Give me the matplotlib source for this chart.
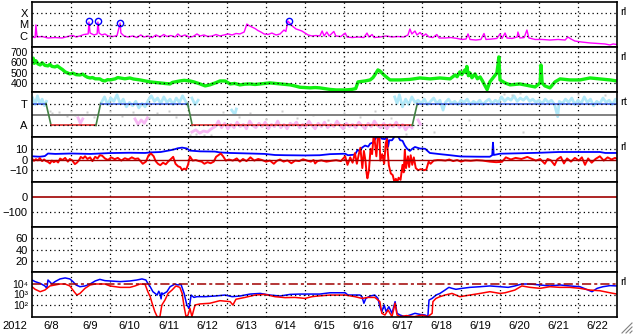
import numpy as np
import matplotlib
matplotlib.use('Agg')
import matplotlib.pyplot as plt
from matplotlib.lines import Line2D

plt.rcParams['font.family'] = ['Liberation Sans', 'DejaVu Sans']
plt.rcParams['font.size'] = 8

# day 0 = 6/8 00:00
days = ['6/8', '6/9', '6/10', '6/11', '6/12', '6/13', '6/14', '6/15',
        '6/16', '6/17', '6/18', '6/19', '6/20', '6/21', '6/22']
year = '2012'

# X-ray class level (1=C, 2=M, 3=X)
xray = [(0.00,0.89),(0.08,0.84),(0.10,1.96),(0.13,0.89),(0.26,0.93),(0.41,0.80),(0.59,0.84),(0.77,0.80),
        (0.87,0.89),(0.97,0.98),(1.05,1.02),(1.13,0.89),(1.23,0.98),(1.33,1.11),(1.44,1.16),(1.46,2.22),
        (1.49,1.24),(1.59,1.07),(1.67,1.16),(1.69,2.22),(1.72,1.24),(1.79,1.07),(1.87,1.16),(1.95,0.98),
        (2.08,0.93),(2.18,1.02),(2.26,2.13),(2.28,1.24),(2.36,0.98),(2.46,0.89),(2.59,0.98),(2.69,0.84),
        (2.79,1.07),(2.87,0.89),(2.97,0.98),(3.08,0.84),(3.18,1.07),(3.28,0.89),(3.38,1.11),(3.46,0.93),
        (3.56,1.02),(3.67,0.89),(3.74,1.16),(3.82,0.93),(3.92,1.07),(4.03,0.89),(4.13,0.93),(4.23,1.16),
        (4.31,0.98),(4.41,1.07),(4.51,0.93),(4.62,0.98),(4.72,1.11),(4.82,0.98),(4.92,1.07),(5.03,1.16),
        (5.13,1.07),(5.23,1.20),(5.33,1.16),(5.44,1.33),(5.51,2.04),(5.56,1.91),(5.64,1.78),(5.72,1.64),
        (5.79,1.47),(5.87,1.33),(5.95,1.16),(6.05,1.11),(6.15,1.24),(6.26,1.07),(6.36,1.16),(6.46,1.51),
        (6.51,1.38),(6.56,2.31),(6.62,2.09),(6.69,1.82),(6.77,1.60),(6.85,1.51),(6.92,1.42),(7.00,1.24),
        (7.08,1.07),(7.18,0.98),(7.28,1.02),(7.38,0.98),(7.44,1.42),(7.49,0.98),(7.56,1.33),(7.62,0.98),
        (7.74,1.38),(7.79,0.98),(7.92,0.93),(8.03,1.24),(8.08,0.89),(8.21,0.84),(8.36,0.89),(8.51,0.84),
        (8.59,1.24),(8.64,0.89),(8.72,1.11),(8.77,0.84),(8.92,0.89),(9.08,0.98),(9.23,0.89),(9.38,0.93),
        (9.54,0.89),(9.64,1.07),(9.69,1.60),(9.74,1.16),(9.82,1.42),(9.87,1.07),(9.95,1.29),(10.03,0.98),
        (10.10,1.16),(10.18,0.89),(10.28,0.84),(10.38,1.11),(10.44,0.80),(10.59,0.80),(10.74,0.84),(10.90,0.76),
        (11.03,0.67),(11.13,0.71),(11.18,1.16),(11.23,0.67),(11.38,0.62),(11.51,0.67),(11.59,1.20),(11.64,0.67),
        (11.79,0.71),(11.92,0.76),(12.00,1.16),(12.05,0.76),(12.13,1.24),(12.18,0.80),(12.31,0.76),(12.44,0.89),
        (12.46,1.33),(12.51,0.80),(12.62,0.84),(12.69,1.51),(12.74,0.80),(12.90,0.67),(13.08,0.67),(13.28,0.62),
        (13.49,0.67),(13.67,0.62),(13.74,0.89),(13.82,0.71),(13.92,0.53),(14.10,0.44),(14.31,0.36),(14.51,0.31),
        (14.69,0.27),(14.82,0.18),(14.90,0.27),(15.00,0.22)]
flares = [(1.47,2.28),(1.70,2.28),(2.26,2.16),(6.59,2.28)]

# solar wind speed km/s
speed = [(0.00,600),(0.03,640),(0.06,590),(0.10,615),(0.15,585),(0.21,574),(0.26,595),(0.33,570),(0.41,565),
         (0.46,580),(0.51,560),(0.59,555),(0.65,565),(0.72,545),(0.78,530),(0.85,507),(0.92,495),(0.97,487),
         (1.05,495),(1.13,480),(1.23,477),(1.30,485),(1.36,468),(1.42,455),(1.49,448),(1.55,452),(1.62,440),
         (1.74,439),(1.80,425),(1.87,419),(1.94,432),(2.00,429),(2.13,439),(2.20,452),(2.26,448),(2.38,440),
         (2.51,448),(2.60,438),(2.77,429),(2.90,420),(3.03,410),(3.15,405),(3.28,400),(3.40,395),(3.54,390),
         (3.60,405),(3.79,419),(3.90,425),(4.05,419),(4.15,410),(4.31,390),(4.44,371),(4.56,381),(4.70,400),
         (4.82,419),(4.95,419),(5.08,390),(5.20,395),(5.33,381),(5.46,388),(5.59,390),(5.72,385),(5.85,390),
         (5.97,395),(6.10,400),(6.23,395),(6.36,390),(6.50,385),(6.62,381),(6.75,370),(6.87,358),(7.00,355),
         (7.13,352),(7.26,355),(7.38,352),(7.51,345),(7.64,337),(7.80,332),(8.03,332),(8.20,337),(8.30,345),
         (8.36,410),(8.45,415),(8.54,419),(8.67,429),(8.74,450),(8.79,477),(8.87,526),(8.92,516),(9.05,468),
         (9.18,429),(9.44,429),(9.69,434),(9.95,448),(10.21,439),(10.46,448),(10.72,439),(10.85,477),(10.90,460),
         (10.97,507),(11.02,480),(11.10,526),(11.13,500),(11.15,560),(11.19,470),(11.23,497),(11.28,450),
         (11.36,487),(11.42,440),(11.49,458),(11.55,420),(11.59,390),(11.67,335),(11.74,410),(11.82,448),
         (11.92,497),(11.95,580),(11.97,652),(12.00,429),(12.13,400),(12.26,381),(12.51,390),(12.77,371),
         (12.90,361),(13.03,400),(13.05,574),(13.08,400),(13.15,371),(13.28,352),(13.41,410),(13.54,439),
         (13.79,429),(14.05,429),(14.31,448),(14.56,439),(14.82,429),(15.00,419)]

# sector: T = 1, A = -1
sector = [(0.00,1),(0.36,1),(0.49,-1),(1.64,-1),(1.76,1),(3.99,1),(4.11,-1),(9.75,-1),(9.88,1),(15.00,1)]
nan = float('nan')
toward = [(0.02,1.5),(0.08,0.9),(0.14,1.7),(0.20,1.0),(0.26,1.4),(0.32,0.8),(0.37,1.2),(0.40,nan),
          (1.78,1.1),(1.86,1.6),(1.94,0.9),(2.02,1.5),(2.10,1.2),(2.18,1.8),(2.26,1.0),(2.34,1.4),(2.42,0.7),
          (2.50,1.1),(2.58,0.8),(2.66,1.2),(2.74,0.6),(2.82,1.0),(2.90,0.7),(2.98,1.3),(3.06,1.7),(3.14,1.2),
          (3.22,1.5),(3.30,1.0),(3.38,1.6),(3.46,1.1),(3.54,1.4),(3.62,0.9),(3.70,1.5),(3.78,1.1),(3.86,1.7),
          (3.94,1.2),(4.00,0.8),(4.05,nan),(4.10,1.5),(4.18,0.9),(4.26,1.3),(4.30,nan),(5.12,0.4),(5.20,0.0),
          (5.24,0.5),(5.30,nan),(9.30,1.6),(9.36,1.0),(9.42,1.8),(9.50,0.7),(9.58,1.4),(9.66,0.9),(9.74,1.6),
          (9.82,1.1),(9.90,1.3),(9.98,1.0),(10.06,1.4),(10.14,0.9),(10.22,1.2),(10.30,1.5),(10.38,1.0),
          (10.46,1.3),(10.54,0.4),(10.60,1.1),(10.68,1.4),(10.76,1.0),(10.84,1.2),(10.92,0.9),(11.00,1.3),
          (11.08,1.1),(11.16,1.4),(11.24,0.9),(11.32,1.2),(11.40,1.0),(11.48,1.3),(11.56,0.9),(11.64,1.2),
          (11.72,1.4),(11.80,1.0),(11.88,1.3),(11.96,1.1),(12.04,1.6),(12.12,1.2),(12.20,1.5),(12.28,1.3),
          (12.36,1.7),(12.44,1.2),(12.52,1.5),(12.60,1.3),(12.68,1.6),(12.76,1.2),(12.84,1.4),(12.92,1.1),
          (13.00,1.3),(13.08,1.0),(13.16,1.4),(13.24,1.1),(13.32,1.3),(13.40,0.9),(13.48,-0.2),(13.52,1.2),
          (13.60,1.0),(13.68,1.4),(13.76,1.1),(13.84,1.5),(13.92,0.9),(14.00,1.3),(14.08,1.0),(14.16,1.6),
          (14.24,1.1),(14.32,1.4),(14.40,0.8),(14.48,1.2),(14.56,1.0),(14.64,1.5),(14.72,1.1),(14.80,1.3),
          (14.88,0.9),(14.96,1.4),(15.00,1.1)]
away = [(1.18,-0.3),(1.24,-0.8),(1.30,-0.4),(1.35,nan),(2.64,-0.4),(2.72,-0.9),(2.80,-0.5),(2.88,-0.8),
        (2.96,-0.3),(3.00,nan),(4.10,-1.6),(4.20,-1.4),(4.30,-1.7),(4.40,-1.5),(4.50,-1.6),(4.60,-1.3),
        (4.70,-1.1),(4.78,-0.6),(4.86,-1.2),(4.94,-0.8),(5.02,-1.3),(5.10,-0.9),(5.18,-1.2),(5.26,-0.7),
        (5.34,-1.1),(5.42,-0.9),(5.50,-1.3),(5.58,-0.6),(5.66,-1.0),(5.74,-1.2),(5.82,-0.8),(5.90,-1.1),
        (5.98,-0.7),(6.06,-1.3),(6.14,-0.9),(6.22,-1.1),(6.30,-0.6),(6.38,-1.2),(6.46,-0.9),(6.54,-1.3),
        (6.62,-0.8),(6.70,-1.0),(6.78,-0.7),(6.86,-1.2),(6.94,-0.9),(7.02,-1.1),(7.10,-0.6),(7.18,-1.0),
        (7.26,-1.3),(7.34,-0.8),(7.42,-1.1),(7.50,-0.7),(7.58,-1.2),(7.66,-0.9),(7.74,-1.1),(7.82,-0.6),
        (7.90,-1.0),(7.98,-1.3),(8.06,-0.8),(8.14,-1.1),(8.22,-0.9),(8.30,-1.2),(8.38,-0.7),(8.46,-1.0),
        (8.54,-1.3),(8.62,-0.8),(8.70,-1.1),(8.78,-0.6),(8.86,-1.0),(8.94,-1.2),(9.02,-0.8),(9.10,-1.3),
        (9.18,-0.9),(9.26,-1.1),(9.34,-0.7),(9.42,-1.2),(9.50,-0.9),(9.58,-1.4),(9.66,-1.0),(9.74,-1.2),
        (9.80,nan),(9.90,-0.5),(9.96,-0.9)]
other = [(0.45,0.3),(0.50,0.1),(0.70,0.2),(0.90,-0.1),(1.00,0.3),(1.10,0.0),(1.40,0.2),(1.60,-0.2),
         (2.00,0.3),(2.30,-0.1),(2.60,0.2),(3.00,-0.3),(3.20,0.1),(3.50,0.3),(3.70,-0.2),(4.05,-1.9),
         (4.20,-1.8),(4.40,-1.85),(4.60,-1.9),(4.90,0.2),(5.30,-0.2),(5.60,0.1),(6.00,-0.4),(6.40,0.3),
         (6.80,-0.3),(7.20,0.0),(7.60,-0.5),(8.00,0.1),(8.40,-0.2),(8.80,0.3),(9.20,-0.3),(9.60,-1.8),
         (10.30,-1.6),(11.20,-0.5),(12.10,1.9),(12.30,1.8),(12.50,2.0),(12.60,-1.6),(14.00,1.9),(14.70,1.8)]

# IMF nT
bt = [(0.00,3.0),(0.20,2.6),(0.33,3.2),(0.41,5.6),(0.60,5.2),(1.00,5.6),(1.50,5.2),(2.00,6.0),(2.50,6.3),
      (2.90,6.1),(3.03,6.6),(3.30,7.0),(3.54,8.6),(3.65,9.5),(3.74,10.5),(3.85,11.1),(3.97,10.3),(4.05,8.3),
      (4.31,7.6),(4.69,7.4),(4.82,6.6),(5.08,6.1),(5.59,5.6),(5.97,5.2),(6.23,4.2),(6.50,4.0),(7.00,3.8),
      (7.38,4.0),(7.64,5.0),(8.03,5.4),(8.10,4.0),(8.28,4.5),(8.35,9.0),(8.41,7.5),(8.46,11),(8.54,13),
      (8.62,12),(8.67,14.8),(8.75,16),(8.85,22),(8.92,22),(8.97,19.4),(9.05,19),(9.10,22),(9.13,12),
      (9.16,18),(9.23,17.9),(9.31,22),(9.38,22),(9.44,18),(9.50,17.5),(9.56,13),(9.62,10),(9.69,8),
      (9.75,10),(9.82,11.7),(9.95,10.2),(10.08,10),(10.20,6.1),(10.46,5.0),(10.72,4.0),(11.00,2.8),
      (11.49,2.6),(11.74,2.6),(11.80,4.0),(11.82,15.7),(11.84,4.2),(12.00,5.4),(12.50,5.8),(13.03,6.3),
      (13.50,7.0),(14.00,7.0),(14.56,7.0),(14.70,6.1),(15.00,6.1)]
bz = [(0.00,0.9),(0.05,-1.2),(0.10,0.3),(0.15,-0.8),(0.20,1.2),(0.26,-1.5),(0.31,0.0),(0.36,-1.5),(0.41,-2.2),
      (0.46,-3.7),(0.51,-1.0),(0.56,-2.5),(0.62,-1.2),(0.67,-2.8),(0.72,0.9),(0.78,-0.5),(0.85,1.5),(0.92,-2.0),
      (0.97,0.5),(1.03,-0.8),(1.10,-4.3),(1.15,-3.0),(1.20,-1.0),(1.25,2.4),(1.31,1.0),(1.36,3.0),(1.42,0.5),
      (1.49,2.0),(1.55,-1.5),(1.62,2.5),(1.68,1.0),(1.74,4.0),(1.80,3.5),(1.87,1.0),(1.95,-0.5),(2.03,2.0),
      (2.12,0.3),(2.20,1.5),(2.29,-1.0),(2.38,1.2),(2.47,0.0),(2.56,2.0),(2.64,0.5),(2.72,1.0),(2.77,-1.0),
      (2.84,-4.0),(2.92,-2.0),(2.99,4.0),(3.05,5.6),(3.12,3.0),(3.17,-1.5),(3.23,-4.0),(3.29,-5.3),(3.36,-3.0),
      (3.43,-4.5),(3.49,-2.0),(3.56,0.4),(3.62,2.5),(3.68,-4.0),(3.75,-6.5),(3.80,-7.0),(3.85,-9.9),(3.90,-8.5),
      (3.95,-9.5),(4.00,-5.0),(4.05,2.8),(4.12,-1.0),(4.20,-0.5),(4.28,-1.5),(4.35,-2.0),(4.42,-4.0),(4.50,-2.5),
      (4.58,-3.5),(4.66,-2.0),(4.72,2.5),(4.78,4.0),(4.84,5.6),(4.90,3.0),(4.97,-1.0),(5.05,0.0),(5.15,-1.0),
      (5.25,1.0),(5.33,-2.0),(5.41,0.5),(5.50,-1.5),(5.60,2.0),(5.70,-1.0),(5.80,0.5),(5.90,-0.5),(6.00,-2.0),
      (6.10,-1.0),(6.20,-4.0),(6.28,-1.2),(6.36,0.0),(6.45,-2.0),(6.55,-0.8),(6.65,-3.5),(6.75,-1.0),(6.85,-1.5),
      (6.95,0.2),(7.05,-1.0),(7.15,-2.0),(7.22,-0.5),(7.26,-3.7),(7.32,-1.5),(7.42,-0.8),(7.55,-2.0),(7.68,-1.2),
      (7.80,-0.6),(7.92,-1.5),(8.03,3.0),(8.09,-5.0),(8.16,2.0),(8.22,-3.0),(8.28,6.0),(8.33,-4.0),(8.38,5.0),
      (8.42,11.0),(8.47,-8.0),(8.51,8.0),(8.55,-1.0),(8.58,-13.0),(8.60,-17.6),(8.64,-10.0),(8.68,10.0),(8.72,5.0),
      (8.76,22.0),(8.79,17.0),(8.83,3.0),(8.87,22.0),(8.91,22.0),(8.93,-1.0),(8.98,5.0),(9.03,-4.0),(9.07,15.0),
      (9.10,19.0),(9.12,8.0),(9.15,-5.4),(9.20,-13.0),(9.25,-14.6),(9.29,-20.7),(9.33,-18.0),(9.36,-22.0),
      (9.40,-17.0),(9.45,-19.0),(9.50,-5.0),(9.53,-12.0),(9.56,9.0),(9.59,-8.0),(9.64,3.0),(9.67,-7.0),(9.71,4.0),
      (9.75,-5.0),(9.79,2.0),(9.84,-8.0),(9.90,-10.0),(9.97,-9.0),(10.04,-10.0),(10.11,-9.5),(10.17,-2.0),
      (10.22,-4.0),(10.30,-1.0),(10.40,-0.5),(10.50,-0.6),(10.60,-1.0),(10.70,0.0),(10.80,-1.5),(10.90,-0.5),
      (11.00,-2.0),(11.10,-0.8),(11.25,-1.2),(11.40,-0.6),(11.55,-1.0),(11.74,-2.0),(11.90,-2.5),(12.05,-2.2),
      (12.15,2.0),(12.28,0.0),(12.40,1.5),(12.55,0.5),(12.70,2.4),(12.80,0.9),(12.92,-1.0),(13.03,0.5),
      (13.15,-4.0),(13.22,0.5),(13.30,-0.6),(13.40,-5.3),(13.47,0.2),(13.56,2.4),(13.64,-3.7),(13.72,1.0),
      (13.82,-2.0),(13.92,1.5),(14.02,-1.0),(14.10,2.0),(14.18,-5.0),(14.26,1.0),(14.35,-3.0),(14.45,0.5),
      (14.56,3.0),(14.66,-1.0),(14.76,2.0),(14.86,0.0),(14.95,1.5),(15.00,0.5)]

# electron flux, log10
flux_hi = [(0.00,4.34),(0.08,4.19),(0.21,4.03),(0.33,3.79),(0.38,3.58),(0.41,4.34),(0.51,3.97),(0.59,4.19),
           (0.72,4.44),(0.85,4.53),(0.97,4.44),(1.05,4.19),(1.13,3.88),(1.23,3.72),(1.36,3.79),(1.49,3.97),
           (1.62,4.25),(1.74,4.40),(1.87,4.28),(2.00,4.25),(2.26,4.19),(2.51,4.25),(2.69,4.34),(2.82,4.44),
           (2.92,4.34),(2.97,4.03),(3.03,3.72),(3.10,3.26),(3.21,2.95),(3.25,3.30),(3.28,3.10),(3.31,2.60),
           (3.33,3.15),(3.36,3.04),(3.46,3.26),(3.54,3.72),(3.67,3.97),(3.74,3.88),(3.82,3.94),(3.90,3.10),
           (3.97,2.03),(4.03,1.72),(4.08,2.95),(4.15,2.73),(4.23,2.80),(4.44,2.80),(4.69,2.86),(4.95,2.95),
           (5.13,2.80),(5.33,2.86),(5.59,3.04),(5.85,3.10),(6.10,2.95),(6.36,2.86),(6.62,3.01),(6.87,3.04),
           (7.26,3.04),(7.38,3.04),(7.64,3.16),(8.03,3.16),(8.10,2.95),(8.41,2.95),(8.46,2.80),(8.51,2.19),
           (8.56,2.64),(8.67,2.86),(8.79,2.95),(8.87,2.64),(8.92,1.87),(8.97,1.41),(9.03,2.03),(9.08,1.41),
           (9.15,1.87),(9.23,1.26),(9.31,2.34),(9.36,1.26),(9.44,1.10),(9.56,0.95),(9.69,1.10),(9.82,1.26),
           (9.95,1.16),(10.08,1.10),(10.15,0.95),(10.18,2.49),(10.26,2.64),(10.36,2.95),(10.46,3.10),
           (10.59,3.41),(10.69,3.66),(10.77,3.57),(10.87,3.48),(11.03,3.57),(11.23,3.66),(11.49,3.72),
           (11.74,3.79),(12.00,3.72),(12.21,3.66),(12.38,3.79),(12.56,3.97),(12.77,3.97),(13.03,3.88),
           (13.28,3.79),(13.54,3.88),(13.79,3.79),(14.05,3.72),(14.26,3.41),(14.36,3.26),(14.49,3.57),
           (14.64,3.72),(14.82,3.82),(15.00,3.79)]
flux_lo = [(0.00,3.72),(0.08,3.48),(0.21,3.26),(0.33,3.41),(0.46,3.79),(0.59,3.88),(0.72,3.97),(0.85,3.97),
           (0.97,3.79),(1.08,3.26),(1.15,2.95),(1.23,3.10),(1.36,3.57),(1.49,3.88),(1.62,3.97),(1.87,3.97),
           (2.00,3.79),(2.26,3.66),(2.51,3.66),(2.64,3.79),(2.77,3.97),(2.90,3.94),(2.97,3.26),(3.03,2.80),
           (3.08,2.19),(3.15,1.41),(3.21,0.95),(3.28,0.95),(3.33,2.03),(3.41,2.49),(3.49,3.10),(3.59,3.41),
           (3.69,3.79),(3.79,3.66),(3.85,3.10),(3.90,1.87),(3.95,0.95),(4.00,1.10),(4.05,1.72),(4.10,0.95),
           (4.18,2.03),(4.31,2.13),(4.56,2.19),(4.82,2.43),(5.08,2.34),(5.15,2.03),(5.23,2.56),(5.46,2.73),
           (5.72,2.95),(5.97,3.01),(6.23,2.80),(6.49,2.71),(6.74,2.73),(7.00,2.64),(7.18,2.80),(7.33,2.86),
           (7.64,2.95),(8.03,2.95),(8.28,2.80),(8.46,2.64),(8.62,2.73),(8.79,2.73),(8.92,2.34),(8.97,1.26),
           (9.05,1.10),(9.13,1.57),(9.23,0.95),(9.31,2.19),(9.36,1.10),(9.44,0.95),(9.60,1.05),(9.80,0.95),
           (10.00,1.10),(10.15,0.95),(10.26,1.26),(10.28,2.34),(10.36,2.64),(10.46,2.80),(10.59,2.95),
           (10.77,3.10),(10.97,2.80),(11.23,2.95),(11.49,3.10),(11.74,3.26),(12.00,3.10),(12.13,3.16),
           (12.38,3.41),(12.56,3.79),(12.77,3.66),(13.03,3.57),(13.28,3.72),(13.54,3.66),(13.79,3.66),
           (14.05,3.57),(14.31,3.41),(14.56,3.35),(14.82,3.16),(15.00,3.04)]
flux_alert = 1e4
flux_ticks = [1e2, 1e3, 1e4]
flux_labels = ['10\u00b2', '10\u00b3', '10\u2074']

W, H = 633, 334
fig = plt.figure(figsize=(W/100, H/100), dpi=100)
tops = [2, 47, 92, 137, 182, 227, 272]
axes = []
for t in tops:
    ax = fig.add_axes([32/W, 1-(t+45)/H, 585/W, 45/H])
    ax.set_xlim(0, 15)
    ax.set_xticks(range(1, 15))
    ax.tick_params(axis='both', length=0, pad=3)
    ax.set_xticklabels([])
    ax.grid(axis='x', color='black', linestyle=(0, (1, 2.5)), linewidth=0.9)
    for s in ax.spines.values():
        s.set_linewidth(1.2)
    axes.append(ax)
dot = dict(color='black', linestyle=(0, (1, 2.5)), linewidth=0.9)

# X-ray
ax = axes[0]
a = np.array(xray)
ax.plot(a[:, 0], a[:, 1], color='#ff00ff', lw=1)
f = np.array(flares)
ax.plot(f[:, 0], f[:, 1], 'o', ms=4.5, mfc='none', mec='#0000ff', mew=1)
ax.set_ylim(0, 4)
ax.set_yticks([1, 2, 3])
ax.set_yticklabels(['C', 'M', 'X'])
for v in [1, 2, 3]:
    ax.axhline(v, **dot)

# speed
ax = axes[1]
a = np.array(speed)
ax.plot(a[:, 0], a[:, 1], color='#10f010', lw=2.4)
ax.set_ylim(312, 748)
ax.set_yticks([400, 500, 600, 700])
ax.tick_params(axis='y', labelsize=7.5)
for v in [400, 500, 600, 700]:
    ax.axhline(v, **dot)

# sector
ax = axes[2]
for data, c in [(toward, '#b0e8f8'), (away, '#f8b8f4')]:
    a = np.array(data)
    ax.plot(a[:, 0], a[:, 1], color=c, lw=2)
a = np.array(other)
ax.plot(a[:, 0], a[:, 1], 's', ms=2, color='#cccccc', mec='none')
ax.axhline(0, color='#808080', lw=1.4)
for (t0, v0), (t1, v1) in zip(sector[:-1], sector[1:]):
    if v0 == v1:
        c = '#4060e0' if v0 > 0 else '#e03030'
    else:
        c = '#408040'
    ax.plot([t0, t1], [v0, v1], color=c, lw=1.2)
ax.set_ylim(-2.05, 2.05)
ax.set_yticks([1, -1])
ax.set_yticklabels(['T', 'A'])
for v in [1, -1]:
    ax.axhline(v, **dot)

# IMF
ax = axes[3]
a = np.array(bt)
ax.plot(a[:, 0], a[:, 1], color='#0000ff', lw=1.3)
a = np.array(bz)
ax.plot(a[:, 0], a[:, 1], color='#ff0000', lw=1.4)
ax.axhline(0, color='#a00000', lw=1)
ax.set_ylim(-21, 21)
ax.set_yticks([10, 0, -10])
for v in [10, -10]:
    ax.axhline(v, **dot)

# Dst (no data)
ax = axes[4]
ax.set_ylim(-200, 100)
ax.set_yticks([0, -100])
ax.axhline(0, color='#a00000', lw=1.2)
ax.axhline(-100, **dot)

# empty panel
ax = axes[5]
ax.set_ylim(0, 80)
ax.set_yticks([20, 40, 60])
for v in [20, 40, 60]:
    ax.axhline(v, **dot)

# electron flux
ax = axes[6]
ax.set_yscale('log')
a = np.array(flux_hi)
ax.plot(a[:, 0], 10**a[:, 1], color='#0000ff', lw=1.1)
a = np.array(flux_lo)
ax.plot(a[:, 0], 10**a[:, 1], color='#ff0000', lw=1.1)
ax.axhline(flux_alert, color='#a00000', lw=1.1, dashes=(6, 2, 2, 2))
ax.set_ylim(10**0.92, 10**5.08)
ax.set_yticks(flux_ticks)
ax.set_yticklabels(flux_labels)
ax.tick_params(axis='y', labelsize=7.5)
ax.minorticks_off()
ax.set_xticks(range(1, 15))
for v in flux_ticks[:2]:
    ax.axhline(v, **dot)
ax.set_xticks([d + 0.5 for d in range(15)], minor=True)
ax.set_xticklabels(days, minor=True)
ax.tick_params(axis='x', which='minor', length=0, pad=3)

fig.text(15/W, 1-326/H, year, ha='center', va='center')
for lab, y in [('rl', 12), ('rl', 57), ('rt', 102), ('rl', 147), ('rl', 282)]:
    fig.text(620/W, 1-y/H, lab, ha='left', va='center')
for k in range(3):
    d = 4*k
    fig.add_artist(Line2D([(622+d)/W, 632/W], [1-333/H, 1-(323+d)/H], color='#808080', lw=0.8))

fig.savefig('out.png', dpi=100)
